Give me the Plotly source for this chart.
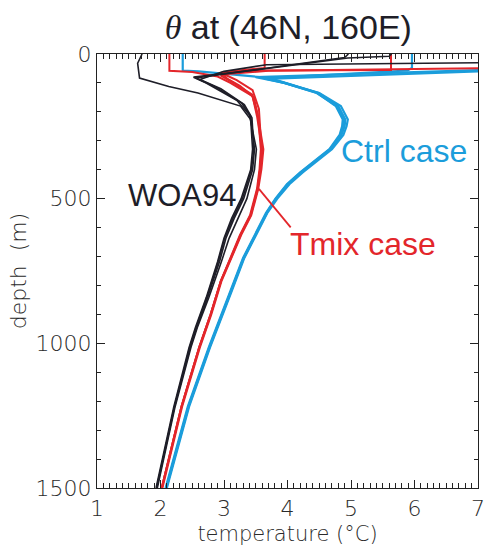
import plotly.graph_objects as go

# ---------------- data ----------------
# WOA94 climatology profiles (black)
woa_d1 = [0, 32, 83, 112, 135, 180, 226, 329, 400, 500, 568, 637, 717, 842, 945, 1014, 1219, 1500]
woa_t1 = [1.71, 1.64, 1.67, 2.13, 2.59, 3.26, 3.42, 3.45, 3.42, 3.27, 3.12, 3.00, 2.90, 2.72, 2.55, 2.45, 2.21, 1.93]
woa_d2 = [0, 12, 49, 83, 112, 170, 215, 329, 400, 500, 568, 637, 717, 842, 945, 1014, 1219, 1500]
woa_t2 = [4.96, 4.90, 3.67, 2.56, 2.85, 3.28, 3.42, 3.48, 3.45, 3.31, 3.16, 3.03, 2.93, 2.74, 2.57, 2.47, 2.22, 1.94]
woa_d3 = [0, 8, 14, 55, 80, 100, 160, 210, 329, 400, 500, 568, 637, 717, 842, 945, 1014, 1219, 1500]
woa_t3 = [5.64, 5.60, 4.95, 3.50, 2.52, 2.72, 3.20, 3.40, 3.51, 3.48, 3.36, 3.22, 3.08, 2.96, 2.76, 2.58, 2.48, 2.23, 1.95]
woa_d4 = [0, 28, 30, 37, 60, 88, 120, 175, 220, 329, 400, 500, 568, 637, 717, 842, 945, 1014, 1219, 1500]
woa_t4 = [8.60, 8.30, 7.00, 3.67, 3.00, 2.62, 2.95, 3.32, 3.44, 3.47, 3.43, 3.29, 3.14, 3.01, 2.91, 2.73, 2.56, 2.46, 2.22, 1.94]

# Tmix case profiles (red)
tmix_d1 = [0, 58, 62, 78, 100, 146, 215, 329, 397, 466, 557, 626, 705, 785, 900, 1014, 1219, 1500]
tmix_t1 = [2.14, 2.14, 2.50, 2.90, 3.10, 3.45, 3.52, 3.60, 3.57, 3.53, 3.42, 3.26, 3.11, 2.95, 2.79, 2.61, 2.33, 2.02]
tmix_d2 = [0, 48, 55, 65, 85, 110, 150, 220, 329, 397, 466, 557, 626, 705, 785, 900, 1014, 1219, 1500]
tmix_t2 = [3.64, 3.64, 3.30, 2.95, 3.05, 3.25, 3.47, 3.54, 3.58, 3.56, 3.52, 3.41, 3.25, 3.10, 2.95, 2.79, 2.61, 2.33, 2.02]
tmix_d3 = [0, 55, 57, 63, 75, 100, 140, 210, 329, 397, 466, 557, 626, 705, 785, 900, 1014, 1219, 1500]
tmix_t3 = [5.63, 5.63, 3.70, 3.05, 2.95, 3.15, 3.44, 3.53, 3.62, 3.59, 3.54, 3.43, 3.27, 3.12, 2.96, 2.80, 2.62, 2.34, 2.03]
tmix_d4 = [0, 46, 49, 58, 70, 90, 125, 190, 329, 397, 466, 557, 626, 705, 785, 900, 1014, 1219, 1500]
tmix_t4 = [8.50, 8.40, 7.00, 3.70, 3.00, 3.20, 3.45, 3.55, 3.59, 3.57, 3.53, 3.42, 3.26, 3.11, 2.95, 2.79, 2.61, 2.33, 2.02]

# Ctrl case profiles (cyan)
ctrl_d1 = [0, 57, 60, 68, 83, 100, 135, 180, 226, 250, 280, 329, 370, 409, 450, 500, 550, 614, 660, 705, 820, 945, 1014, 1219, 1500]
ctrl_t1 = [2.35, 2.35, 2.60, 3.00, 3.72, 3.98, 4.49, 4.80, 4.91, 4.90, 4.85, 4.68, 4.45, 4.22, 4.01, 3.82, 3.67, 3.52, 3.41, 3.31, 3.11, 2.89, 2.77, 2.44, 2.09]
ctrl_d2 = [0, 48, 57, 83, 100, 135, 180, 226, 250, 280, 329, 370, 409, 450, 500, 550, 614, 660, 705, 820, 945, 1014, 1219, 1500]
ctrl_t2 = [5.96, 5.96, 5.89, 3.67, 3.95, 4.47, 4.76, 4.87, 4.86, 4.82, 4.66, 4.43, 4.20, 3.99, 3.81, 3.66, 3.51, 3.40, 3.30, 3.10, 2.88, 2.76, 2.43, 2.08]
ctrl_d3 = [0, 55, 60, 86, 102, 135, 180, 226, 250, 280, 329, 370, 409, 450, 500, 550, 614, 660, 705, 820, 945, 1014, 1219, 1500]
ctrl_t3 = [9.50, 9.20, 7.00, 3.67, 3.98, 4.50, 4.84, 4.95, 4.93, 4.88, 4.70, 4.47, 4.24, 4.03, 3.84, 3.68, 3.53, 3.42, 3.32, 3.12, 2.90, 2.78, 2.45, 2.10]
ctrl_d4 = [0, 50, 56, 80, 100, 135, 180, 226, 250, 280, 329, 370, 409, 450, 500, 550, 614, 660, 705, 820, 945, 1014, 1219, 1500]
ctrl_t4 = [9.00, 8.80, 7.00, 3.50, 3.95, 4.46, 4.78, 4.89, 4.88, 4.84, 4.67, 4.44, 4.21, 4.00, 3.82, 3.67, 3.52, 3.41, 3.31, 3.11, 2.89, 2.77, 2.44, 2.09]

x_ticks = [1, 2, 3, 4, 5, 6, 7]
y_ticks = [0, 500, 1000, 1500]

BLACK = "#1e1e28"
RED = "#e3262b"
CYAN = "#1b9ddb"

fig = go.Figure()

groups = [
    (CYAN, 2.2, [(ctrl_d1, ctrl_t1), (ctrl_d2, ctrl_t2), (ctrl_d3, ctrl_t3), (ctrl_d4, ctrl_t4)]),
    (RED, 2.0, [(tmix_d1, tmix_t1), (tmix_d2, tmix_t2), (tmix_d3, tmix_t3), (tmix_d4, tmix_t4)]),
    (BLACK, 1.6, [(woa_d1, woa_t1), (woa_d2, woa_t2), (woa_d3, woa_t3), (woa_d4, woa_t4)]),
]
for color, w, profiles in groups:
    for d, t in profiles:
        fig.add_trace(go.Scatter(x=t, y=d, mode="lines",
                                 line=dict(color=color, width=w),
                                 showlegend=False, hoverinfo="skip"))

TEXTFONT = "Liberation Sans, Arial, sans-serif"
TICKFONT = "DejaVu Sans, sans-serif"

fig.add_annotation(x=5.83, y=336, xref="x", yref="y", text="Ctrl case",
                   showarrow=False, font=dict(family=TEXTFONT, size=32, color=CYAN))
fig.add_annotation(x=2.35, y=490, xref="x", yref="y", text="WOA94",
                   showarrow=False, font=dict(family=TEXTFONT, size=31, color=BLACK))
fig.add_annotation(x=5.19, y=656, xref="x", yref="y", text="Tmix case",
                   showarrow=False, font=dict(family=TEXTFONT, size=32, color=RED))
fig.add_shape(type="line", xref="x", yref="y", x0=3.55, y0=466, x1=4.05, y1=599,
              line=dict(color=RED, width=1.8))

axis_common = dict(
    showline=True, linecolor="#222222", linewidth=1.3, mirror="allticks",
    ticks="inside", ticklen=8, tickwidth=1.2, tickcolor="#222222",
    showgrid=False, zeroline=False, ticklabeloverflow="allow",
    tickfont=dict(family=TICKFONT, size=22, color="#2a2a2a", weight=200),
)

fig.update_xaxes(range=[1, 7], tickvals=x_ticks, ticktext=[str(v) for v in x_ticks],
                 minor=dict(dtick=0.1, ticklen=5, tickwidth=1, tickcolor="#222222", ticks="inside"),
                 title=dict(text="temperature (°C)", standoff=6,
                            font=dict(family=TICKFONT, size=21, color="#2a2a2a", weight=200)),
                 **axis_common)
fig.update_yaxes(range=[1500, 0], tickvals=y_ticks, ticktext=[str(v) for v in y_ticks],
                 minor=dict(dtick=100, ticklen=4, tickwidth=1, tickcolor="#222222", ticks="inside"),
                 title=dict(text="depth  (m)", standoff=2,
                            font=dict(family=TICKFONT, size=22, color="#2a2a2a", weight=200)),
                 **axis_common)

fig.update_layout(
    width=490, height=546,
    margin=dict(l=97, r=5, t=54, b=54),
    paper_bgcolor="white", plot_bgcolor="white",
    title=dict(text="<span style='font-family:Liberation Serif'><i>θ</i></span> at (46N, 160E)",
               x=0.502, xref="paper", y=1 - 27 / 546, yref="container", yanchor="middle",
               font=dict(family=TEXTFONT, size=34, color="#1e1e28")),
)

fig.write_html("out.html")
